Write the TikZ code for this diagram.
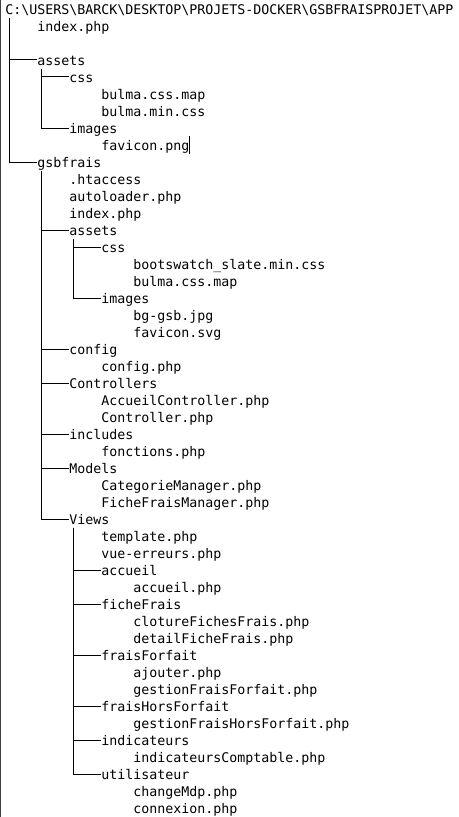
\documentclass[tikz,border=0pt]{standalone}
\usepackage{fontspec}
\setmonofont{DejaVu Sans Mono}
\newcommand\treefont{\ttfamily\fontsize{9.97pt}{12pt}\selectfont}
\tikzset{
  entry/.style={anchor=west, inner sep=0pt, text height=10.5pt, text depth=2.25pt, font=\treefont},
  branch/.style={line width=0.75pt, black}
}
\begin{document}
\begin{tikzpicture}[x=6pt, y=-12.75pt]
\useasboundingbox (-0.625,-0.5294) rectangle (56.625,47.5294);
\draw[black!75, line width=0.75pt] (-0.5625,-0.5294) -- (-0.5625,47.5294);
\node[entry] (root) at (0,0) {C:\textbackslash USERS\textbackslash BARCK\textbackslash DESKTOP\textbackslash PROJETS-DOCKER\textbackslash GSBFRAISPROJET\textbackslash APP};
\foreach \c/\r/\n/\t in {4/1/index/index.php, 4/3/assets/assets, 8/4/css/css,
  12/5/cssmap/bulma.css.map, 12/6/cssmin/bulma.min.css, 8/7/images/images,
  12/8/favpng/favicon.png, 4/9/gsbfrais/gsbfrais, 8/10/htaccess/.htaccess,
  8/11/autoload/autoloader.php, 8/12/gindex/index.php, 8/13/gassets/assets,
  12/14/gcss/css, 16/15/bootswatch/bootswatch\_slate.min.css, 16/16/gcssmap/bulma.css.map,
  12/17/gimages/images, 16/18/bggsb/bg-gsb.jpg, 16/19/favsvg/favicon.svg,
  8/20/config/config, 12/21/configphp/config.php, 8/22/controllers/Controllers,
  12/23/accueilctrl/AccueilController.php, 12/24/controller/Controller.php,
  8/25/includes/includes, 12/26/fonctions/fonctions.php, 8/27/models/Models,
  12/28/categorie/CategorieManager.php, 12/29/fichemgr/FicheFraisManager.php,
  8/30/views/Views, 12/31/template/template.php, 12/32/vueerreurs/vue-erreurs.php,
  12/33/accueil/accueil, 16/34/accueilphp/accueil.php, 12/35/ficheFrais/ficheFrais,
  16/36/cloture/clotureFichesFrais.php, 16/37/detail/detailFicheFrais.php,
  12/38/fraisForfait/fraisForfait, 16/39/ajouter/ajouter.php,
  16/40/gestionff/gestionFraisForfait.php, 12/41/fraisHF/fraisHorsForfait,
  16/42/gestionfhf/gestionFraisHorsForfait.php, 12/43/indicateurs/indicateurs,
  16/44/indicphp/indicateursComptable.php, 12/45/utilisateur/utilisateur,
  16/46/changemdp/changeMdp.php, 16/47/connexion/connexion.php}
{
  \node[entry] (\n) at (\c,\r) {\t};
}
\foreach \p/\k in {root/assets, root/gsbfrais, assets/css, assets/images,
  gsbfrais/gassets, gsbfrais/config, gsbfrais/controllers, gsbfrais/includes,
  gsbfrais/models, gsbfrais/views, gassets/gcss, gassets/gimages,
  views/accueil, views/ficheFrais, views/fraisForfait, views/fraisHF,
  views/indicateurs, views/utilisateur}
{
  \draw[branch] ([xshift=3pt]\p.south west) |- (\k.west);
}
\draw[line width=0.6pt] (favpng.north east) -- (favpng.south east);
\end{tikzpicture}
\end{document}
